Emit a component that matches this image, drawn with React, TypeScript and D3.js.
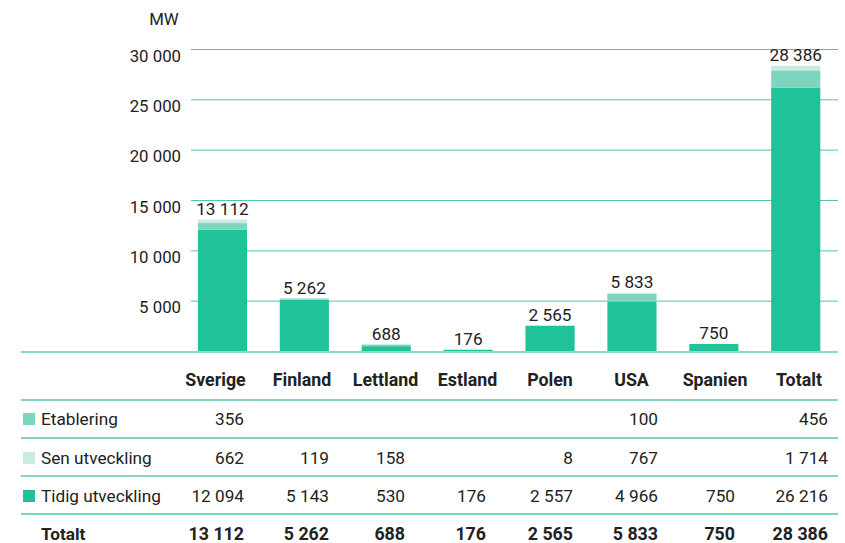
import React from "react";
import * as d3 from "d3";

const categories = ["Sverige", "Finland", "Lettland", "Estland", "Polen", "USA", "Spanien", "Totalt"];
const etablering: (number | null)[] = [356, null, null, null, null, 100, null, 456];
const senUtveckling: (number | null)[] = [662, 119, 158, null, 8, 767, null, 1714];
const tidigUtveckling: (number | null)[] = [12094, 5143, 530, 176, 2557, 4966, 750, 26216];
const totals = [13112, 5262, 688, 176, 2565, 5833, 750, 28386];
const yTicks = [5000, 10000, 15000, 20000, 25000, 30000];
const unitLabel = "MW";
const seriesNames = ["Etablering", "Sen utveckling", "Tidig utveckling"];
const totalLabel = "Totalt";

// layout constants (not data)
const W = 845;
const H = 543;
const headerCenters = [215.5, 302, 385.5, 467.5, 550, 631.5, 715, 799];
const valueRights = [244, 329, 405, 486, 573, 658, 735, 828];
const C_TIDIG = "#20c29a";
const C_MED = "#7dd4bf";
const C_LIGHT = "#c9ece2";
const TEXT = "#222222";
const LINE = "#55c6a5";

const fmtS = (v: number) => d3.format(",")(v).replace(/,/g, " ");

export default function App() {
  const y = d3.scaleLinear().domain([0, 30000]).range([351.5, 49.5]);
  const x = d3
    .scaleBand<string>()
    .domain(categories)
    .range([181.5, 836.7])
    .paddingInner(0.4)
    .paddingOuter(0.2);

  const rows = categories.map((c, i) => ({
    c,
    tidig: tidigUtveckling[i] ?? 0,
    sen: senUtveckling[i] ?? 0,
    etab: etablering[i] ?? 0,
  }));
  const stack = d3.stack<any>().keys(["tidig", "sen", "etab"])(rows);
  const barColors: Record<string, string> = { tidig: C_TIDIG, sen: C_MED, etab: C_LIGHT };

  const font = "Roboto, 'Noto Sans', sans-serif";
  const fs = 16.8;
  const fsT = 17.2;
  const fsH = 17.8;

  const tableRows = [
    { name: seriesNames[0], color: C_MED, vals: etablering, y: 425 },
    { name: seriesNames[1], color: C_LIGHT, vals: senUtveckling, y: 464 },
    { name: seriesNames[2], color: C_TIDIG, vals: tidigUtveckling, y: 502 },
  ];
  const tableLines = [400, 438, 476, 514];

  return (
    <svg width={W} height={H} style={{ position: "absolute", left: 0, top: 0, display: "block" }} fontFamily={font}>
      <rect width={W} height={H} fill="#fff" />
      {yTicks.map((t) => (
        <line key={t} x1={191} x2={838} y1={y(t)} y2={y(t)} stroke={LINE} strokeWidth={1} />
      ))}
      {yTicks.map((t) => (
        <text key={"t" + t} x={181} y={y(t) + 12} textAnchor="end" fontSize={fs} fill={TEXT}>
          {fmtS(t)}
        </text>
      ))}
      <text x={164} y={25} textAnchor="middle" fontSize={fs} fill={TEXT}>
        {unitLabel}
      </text>
      {stack.map((layer) =>
        layer.map((d, i) => {
          const h = y(d[0]) - y(d[1]);
          if (h <= 0) return null;
          return (
            <rect
              key={layer.key + i}
              x={x(categories[i])}
              width={x.bandwidth()}
              y={y(d[1])}
              height={h}
              fill={barColors[layer.key]}
            />
          );
        })
      )}
      <line x1={21} x2={838} y1={352} y2={352} stroke="#8adbc5" strokeWidth={2} />
      {totals.map((t, i) => (
        <text
          key={"v" + i}
          x={(x(categories[i]) ?? 0) + x.bandwidth() / 2}
          y={y(t) - 5}
          textAnchor="middle"
          fontSize={fsT}
          fill={TEXT}
        >
          {fmtS(t)}
        </text>
      ))}
      {categories.map((c, i) => (
        <text key={"h" + c} x={headerCenters[i]} y={386} textAnchor="middle" fontSize={fsH} fontWeight={700} fill={TEXT}>
          {c}
        </text>
      ))}
      {tableLines.map((ly) => (
        <line key={"l" + ly} x1={21} x2={838} y1={ly} y2={ly} stroke={LINE} strokeWidth={1.5} />
      ))}
      {tableRows.map((r) => (
        <g key={r.name}>
          <rect x={23} y={r.y - 12} width={12} height={12} fill={r.color} />
          <text x={41} y={r.y} fontSize={fsT} fill={TEXT}>
            {r.name}
          </text>
          {r.vals.map((v, i) =>
            v == null ? null : (
              <text key={i} x={valueRights[i]} y={r.y} textAnchor="end" fontSize={fsT} fill={TEXT}>
                {fmtS(v)}
              </text>
            )
          )}
        </g>
      ))}
      <text x={41} y={540} fontSize={fsT} fontWeight={700} fill={TEXT}>
        {totalLabel}
      </text>
      {totals.map((t, i) => (
        <text key={"tt" + i} x={valueRights[i]} y={540} textAnchor="end" fontSize={fsH} fontWeight={700} fill={TEXT}>
          {fmtS(t)}
        </text>
      ))}
    </svg>
  );
}
